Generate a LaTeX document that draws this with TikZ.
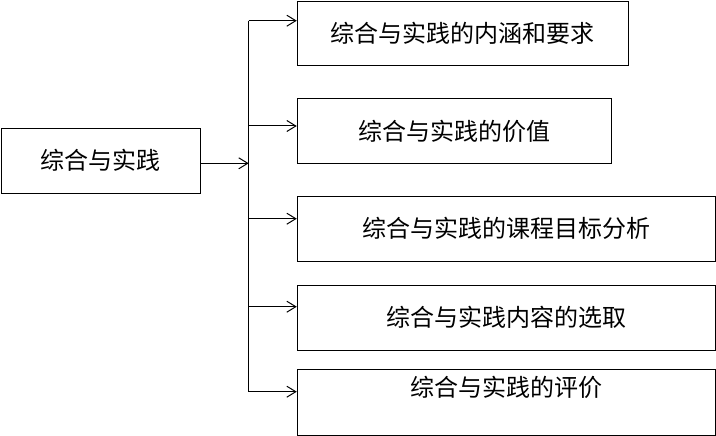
\documentclass[tikz,border=0pt]{standalone}
\usepackage{fontspec}
\newfontfamily\cjk{Noto Sans CJK SC}
\usetikzlibrary{arrows.meta}
\begin{document}
\begin{tikzpicture}[x=1pt,y=-1pt,
  box/.style={draw=black, line width=1.1pt, inner sep=0pt, align=center,
    font=\cjk\fontsize{24pt}{28pt}\selectfont},
  arr/.style={draw=black, line width=1pt, -{Straight Barb[length=9pt,width=11pt,line width=1pt]}},
  trunk/.style={draw=black, line width=1pt}]
\useasboundingbox (0,0) rectangle (716,436);
\fill[white] (0,0) rectangle (716,436);
\node[box, minimum width=199pt, minimum height=64.7pt] (L) at (100.8,160.7) {综合与实践};
\node[box, minimum width=331pt, minimum height=64.3pt] (b1) at (462.8,33.8) {综合与实践的内涵和要求};
\node[box, minimum width=314pt, minimum height=64.6pt] (b2) at (454.3,131) {综合与实践的价值};
\node[box, minimum width=418pt, minimum height=65.3pt] (b3) at (506.3,228.7) {综合与实践的课程目标分析};
\node[box, minimum width=418pt, minimum height=64.7pt] (b4) at (506.3,317.7) {综合与实践内容的选取};
\node[box, minimum width=418pt, minimum height=66pt,
  label={[font=\cjk\fontsize{24pt}{28pt}\selectfont, yshift=15pt]center:综合与实践的评价}] (b5) at (506.3,402.3) {};
\coordinate (t1) at (248.7,20.7);
\coordinate (t2) at (248.7,126);
\coordinate (t3) at (248.7,218.7);
\coordinate (t4) at (248.7,306.7);
\coordinate (t5) at (248.7,391.7);
\coordinate (tm) at (248.7,163.3);
\draw[trunk] (t1) -- (t5);
\draw[arr] (tm -| L.east) -- (tm);
\draw[arr] (t1) -- (t1 -| b1.west);
\draw[arr] (t2) -- (t2 -| b2.west);
\draw[arr] (t3) -- (t3 -| b3.west);
\draw[arr] (t4) -- (t4 -| b4.west);
\draw[arr] (t5) -- (t5 -| b5.west);
\end{tikzpicture}
\end{document}
